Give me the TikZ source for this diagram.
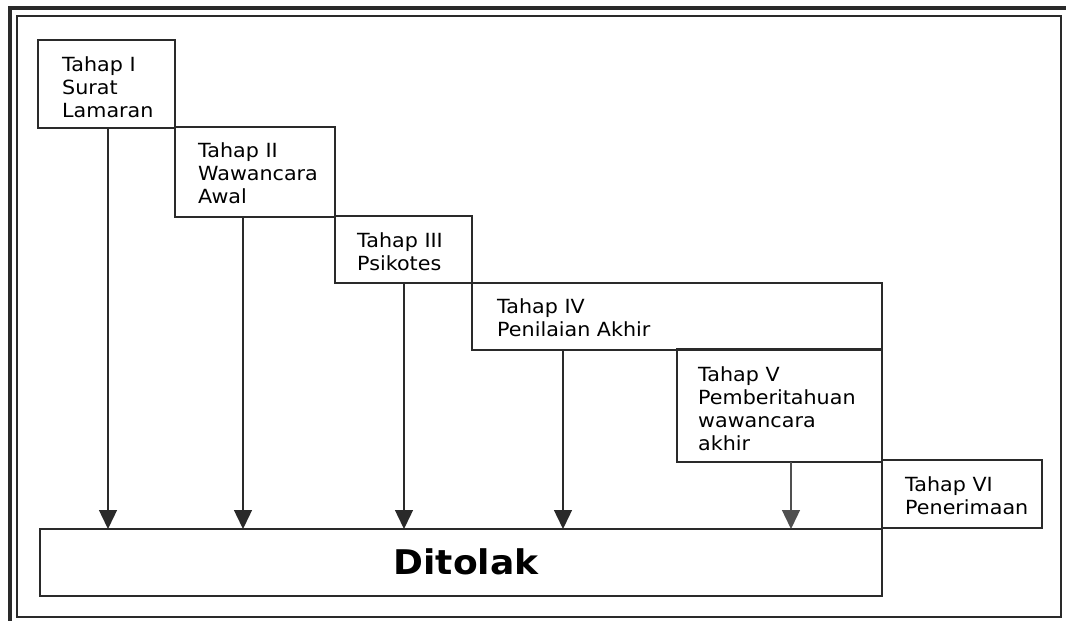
\documentclass[tikz,border=0pt]{standalone}
\usepackage{fontspec}
\setmainfont{DejaVu Sans}[FakeStretch=1.06]
\usetikzlibrary{arrows.meta}
\definecolor{ink}{HTML}{2A2A2A}
\definecolor{inkgray}{HTML}{505050}
\tikzset{
  stage/.style={draw=ink, line width=1.4pt, inner sep=0pt, outer sep=0pt, anchor=north west, fill=none},
  label/.style={anchor=base west, inner sep=0pt, align=left, font=\fontsize{19.5}{23}\selectfont, text=black},
  arr/.style={draw=ink, line width=1.4pt, -{Triangle[width=18pt,length=19pt]}},
}
\begin{document}
\begin{tikzpicture}[x=1pt,y=-1pt]
\useasboundingbox (0,0) rectangle (1066,621);
% frame
\draw[ink, line width=4.5pt] (10,621) -- (10,8) -- (1066,8);
\draw[ink, line width=1.5pt] (17,16) rectangle (1061,617);
% boxes
\node[stage, minimum width=137pt, minimum height=88pt] (b1) at (38,40) {};
\node[stage, minimum width=160pt, minimum height=90pt] (b2) at (175,127) {};
\node[stage, minimum width=137pt, minimum height=67pt] (b3) at (335,216) {};
\node[stage, minimum width=410pt, minimum height=67pt] (b4) at (472,283) {};
\node[stage, minimum width=205pt, minimum height=113pt] (b5) at (677,349) {};
\node[stage, minimum width=160pt, minimum height=68pt] (b6) at (882,460) {};
\node[stage, minimum width=842pt, minimum height=67pt] (dit) at (40,529) {};
% texts (anchored at the baseline of the last line)
\node[label] (t1) at (62,117) {Tahap I\\Surat\\Lamaran};
\node[label] (t2) at (198,203) {Tahap II\\Wawancara\\Awal};
\node[label] (t3) at (357,270) {Tahap III\\Psikotes};
\node[label] (t4) at (497,336) {Tahap IV\\Penilaian Akhir};
\node[label] (t5) at (698,450) {Tahap V\\Pemberitahuan\\wawancara\\akhir};
\node[label] (t6) at (905,514) {Tahap VI\\Penerimaan};
\node[anchor=base, inner sep=0pt, font=\fontsize{34}{40}\selectfont\bfseries] (td) at (466,574) {Ditolak};
% arrows
\coordinate (x1) at (108,0);
\coordinate (x2) at (243,0);
\coordinate (x3) at (404,0);
\coordinate (x4) at (563,0);
\coordinate (x5) at (791,0);
\draw[arr] (b1.south -| x1) -- (dit.north -| x1);
\draw[arr] (b2.south -| x2) -- (dit.north -| x2);
\draw[arr] (b3.south -| x3) -- (dit.north -| x3);
\draw[arr] (b4.south -| x4) -- (dit.north -| x4);
\draw[arr, draw=inkgray, fill=inkgray] (b5.south -| x5) -- (dit.north -| x5);
\end{tikzpicture}
\end{document}
